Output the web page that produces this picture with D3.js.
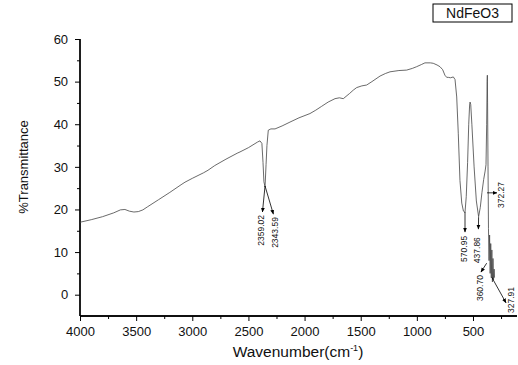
<!DOCTYPE html>
<html>
<head>
<meta charset="utf-8">
<script src="https://cdn.jsdelivr.net/npm/d3@7"></script>
<style>
  body { margin: 0; background: #fff; }
  svg { font-family: "Liberation Sans", Arial, sans-serif; }
</style>
</head>
<body>
<div id="chart"></div>
<script>
// FTIR spectrum of NdFeO3
const wavenumber = [4000, 3900, 3800, 3700, 3640, 3600, 3560, 3520, 3480, 3440, 3400, 3300, 3200, 3100, 3065, 3000,
  2900, 2860, 2800, 2700, 2600, 2575, 2500, 2420, 2397, 2380, 2370, 2362, 2352, 2343, 2335, 2323, 2300, 2263,
  2200, 2130, 2050, 1952, 1900, 1848, 1790, 1729, 1690, 1655, 1600, 1566, 1536, 1490, 1447, 1400, 1328, 1280,
  1239, 1160, 1091, 1040, 1002, 960, 928, 880, 854, 820, 794, 770, 750, 734, 720, 700, 675, 660, 645, 631, 616,
  600, 585, 571, 560, 548, 538, 530, 526, 520, 510, 490, 470, 450, 435, 420, 405, 392, 384, 378, 374, 372,
  370, 366, 362, 357, 352, 347, 342, 337, 332, 327, 322, 317, 312, 308];
const transmittance = [17.0, 17.6, 18.3, 19.2, 19.9, 20.0, 19.6, 19.4, 19.5, 19.9, 20.6, 22.3, 24.0, 25.8, 26.4, 27.3,
  28.6, 29.2, 30.3, 31.8, 33.2, 33.5, 34.5, 35.8, 36.1, 35.5, 31.0, 26.5, 25.3, 30.5, 35.0, 38.6, 38.9, 38.9,
  39.6, 40.5, 41.5, 42.5, 43.3, 44.2, 45.2, 46.0, 46.2, 46.0, 47.2, 48.0, 48.6, 49.0, 49.2, 50.0, 51.3, 51.9,
  52.3, 52.6, 52.7, 53.1, 53.5, 54.0, 54.4, 54.4, 54.3, 53.9, 53.5, 52.8, 51.5, 51.0, 51.0, 50.9, 51.1, 50.5, 46.4, 37.9, 26.8,
  21.5, 19.6, 19.3, 23.0, 31.0, 40.0, 44.5, 45.2, 44.6, 40.0, 30.0, 22.0, 18.3, 20.5, 24.0, 27.0, 29.0, 30.5, 40.0, 50.0, 51.5,
  45.0, 30.0, 15.5, 8.0, 14.0, 5.0, 12.0, 4.0, 10.5, 3.0, 8.5, 3.5, 6.0, 4.0];

const xTicks = [4000, 3500, 3000, 2500, 2000, 1500, 1000, 500];
const yTicks = [0, 10, 20, 30, 40, 50, 60];

// peak annotations: arrow tail (x0,y0) -> head (x1,y1), label at (lx,ly)
const peakLabels = ["2359.02", "2343.59", "570.95", "437.86", "372.27", "360.70", "327.91"];
const arrowX0 = [2352, 2352, 571, 450, 375, 378, 333];
const arrowY0 = [25.5, 25.5, 19.4, 18.2, 23.9, 7.4, 4.1];
const arrowX1 = [2375, 2278, 571, 452, 286, 429, 206];
const arrowY1 = [19.4, 18.9, 14.7, 15.4, 23.9, 5.3, -1.9];
const labelX = [2388, 2263, 580, 465, 250, 438, 161];
const labelY = [18.7, 18.2, 13.8, 13.5, 23.4, 4.6, 1.8];
const labelAnchor = ["end", "end", "end", "end", "middle", "end", "end"];

const W = 518, H = 365;
const svg = d3.select("#chart").append("svg")
  .attr("width", W).attr("height", H);

const x = d3.scaleLinear().domain([4000, 108]).range([80, 517]);
const y = d3.scaleLinear().domain([-5, 60]).range([316, 39]);

svg.append("defs").append("marker")
  .attr("id", "head")
  .attr("viewBox", "0 0 10 10")
  .attr("refX", 9).attr("refY", 5)
  .attr("markerWidth", 6).attr("markerHeight", 6)
  .attr("orient", "auto")
  .append("path").attr("d", "M0,1L10,5L0,9Z").attr("fill", "#000");

// X axis
const xAxis = svg.append("g")
  .attr("transform", "translate(0," + y(-5) + ")");
xAxis.call(d3.axisBottom(x).tickValues(xTicks).tickSize(5).tickFormat(d3.format("d")));
xAxis.append("g")
  .call(d3.axisBottom(x).tickValues(d3.range(3750, 100, -500)).tickSize(3).tickFormat(""));
xAxis.selectAll(".domain").attr("d", "M80,0H517").attr("stroke", "#000").attr("stroke-width", 1.3);
xAxis.selectAll("text").attr("font-size", 13).attr("fill", "#111").attr("dy", "0.9em");

// Y axis
const yAxis = svg.append("g")
  .attr("transform", "translate(" + x(4000) + ",0)");
yAxis.call(d3.axisLeft(y).tickValues(yTicks).tickSize(5));
yAxis.append("g")
  .call(d3.axisLeft(y).tickValues([5, 15, 25, 35, 45, 55]).tickSize(3).tickFormat(""));
yAxis.selectAll(".domain").attr("d", "M0,39V316").attr("stroke", "#000").attr("stroke-width", 1.3);
yAxis.selectAll("text").attr("font-size", 13).attr("fill", "#111").attr("dx", "-0.3em");

// axis titles
svg.append("text")
  .attr("x", 298).attr("y", 357)
  .attr("text-anchor", "middle")
  .attr("font-size", 15.5)
  .attr("fill", "#111")
  .html('Wavenumber(cm<tspan dy="-6" font-size="9">-1</tspan><tspan dy="6">)</tspan>');

svg.append("text")
  .attr("transform", "translate(28,167)rotate(-90)")
  .attr("text-anchor", "middle")
  .attr("font-size", 13)
  .attr("fill", "#111")
  .text("%Transmittance");

// spectrum
const line = d3.line()
  .x((d, i) => x(wavenumber[i]))
  .y(d => y(d));
svg.append("path")
  .datum(transmittance)
  .attr("d", line)
  .attr("fill", "none")
  .attr("stroke", "#444")
  .attr("stroke-width", 0.8);

// annotations
const ann = svg.append("g");
peakLabels.forEach((lab, i) => {
  ann.append("line")
    .attr("x1", x(arrowX0[i])).attr("y1", y(arrowY0[i]))
    .attr("x2", x(arrowX1[i])).attr("y2", y(arrowY1[i]))
    .attr("stroke", "#000").attr("stroke-width", 0.8)
    .attr("marker-end", "url(#head)");
  ann.append("text")
    .attr("transform", "translate(" + x(labelX[i]) + "," + y(labelY[i]) + ")rotate(-90)")
    .attr("text-anchor", labelAnchor[i])
    .attr("dy", "0.35em")
    .attr("font-size", 8.5)
    .attr("fill", "#111")
    .text(lab);
});

// sample name box
const box = svg.append("g").attr("transform", "translate(433,4)");
box.append("rect")
  .attr("width", 79).attr("height", 18)
  .attr("fill", "#fff").attr("stroke", "#000").attr("stroke-width", 1);
box.append("text")
  .attr("x", 39.5).attr("y", 14)
  .attr("text-anchor", "middle")
  .attr("font-size", 14)
  .attr("fill", "#111")
  .text("NdFeO3");
</script>
</body>
</html>
